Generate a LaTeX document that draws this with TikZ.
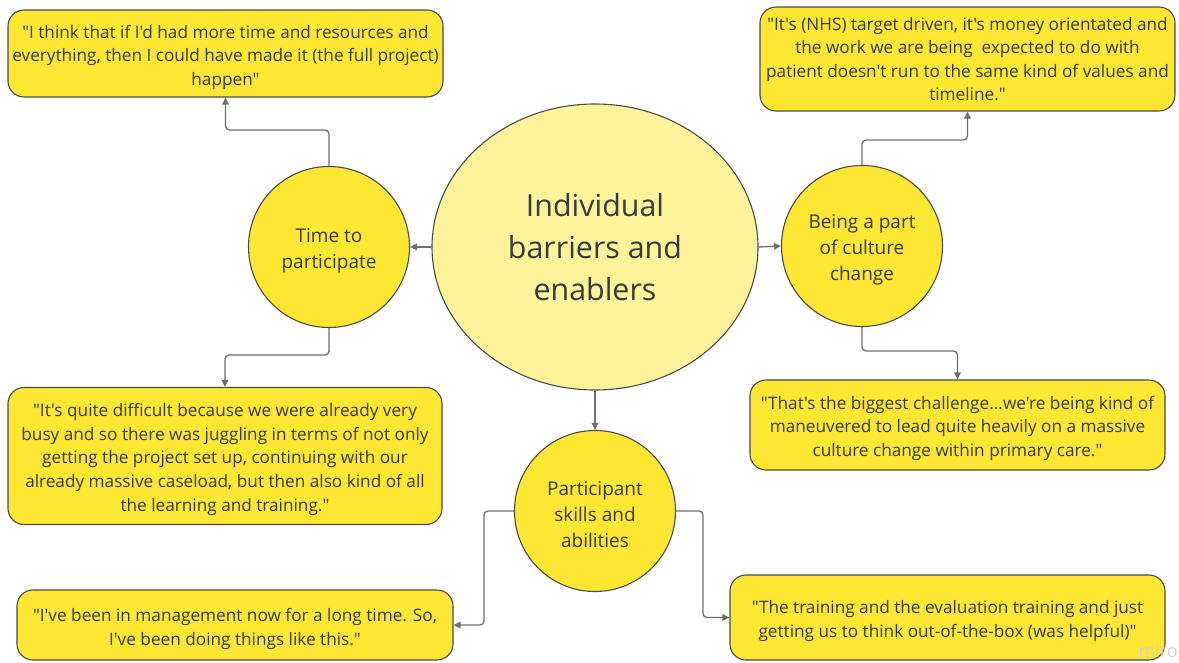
\documentclass[tikz,border=0pt]{standalone}
\usepackage{fontspec}
\setmainfont{Open Sans}[Ligatures=TeXOff]
\usetikzlibrary{arrows.meta,shapes.geometric}
\definecolor{quoteyellow}{HTML}{FEE733}
\definecolor{hubyellow}{HTML}{FEF39A}
\definecolor{edgegrey}{HTML}{4A4A4A}
\definecolor{linkgrey}{HTML}{6E6E6E}
\definecolor{inkgrey}{HTML}{3A3A3A}
% tall invisible strut on a first line, which sets a text block a little lower
\newcommand{\topstrut}[1]{\rule{0pt}{#1}}
\tikzset{
  quote/.style={draw=edgegrey, line width=1.1pt, fill=quoteyellow, rounded corners=16pt,
    align=center, text=inkgrey, inner sep=0pt, font=\fontsize{17.2}{23.6}\selectfont},
  theme/.style={circle, draw=edgegrey, line width=1.1pt, fill=quoteyellow, align=center,
    text=inkgrey, inner sep=0pt, minimum size=161pt, font=\fontsize{19}{26}\selectfont},
  hub/.style={ellipse, draw=edgegrey, line width=1.1pt, fill=hubyellow, align=center,
    text=inkgrey, inner sep=0pt, minimum width=326pt, minimum height=286pt,
    font=\fontsize{30.4}{42}\selectfont},
  link/.style={draw=linkgrey, line width=1.3pt, rounded corners=4pt,
    -{Triangle[length=7pt,width=6.5pt]}}
}
\begin{document}
\begin{tikzpicture}[x=1pt,y=-1pt]
\useasboundingbox (0,0) rectangle (1179,662);

% central theme
\node[hub] (hub) at (595,247) {Individual\\barriers and\\enablers};

% sub-themes
\node[theme] (time) at (329,247) {\topstrut{21pt}Time to\\participate};
\node[theme] (culture) at (862,246) {\topstrut{21pt}Being a part\\of culture\\change};
\node[theme] (skills) at (595,511) {\topstrut{21pt}Participant\\skills and\\abilities};

% quotations
\node[quote, minimum width=435pt, minimum height=87pt] (qtime1) at (225.5,53.5)
  {\topstrut{21pt}"I think that if I'd had more time and resources and\\everything, then I could have made it (the full project)\\happen"};
\node[quote, minimum width=415pt, minimum height=104pt] (qcult1) at (967.5,59)
  {"It's (NHS) target driven, it's money orientated and\\the work we are being\ \ expected to do with\\patient doesn't run to the same kind of values and\\timeline."};
\node[quote, minimum width=434pt, minimum height=137pt] (qtime2) at (225,456)
  {\topstrut{20pt}"It's quite difficult because we were already very\\busy and so there was juggling in terms of not only\\getting the project set up, continuing with our\\already massive caseload, but then also kind of all\\the learning and training."};
\node[quote, minimum width=415pt, minimum height=90pt] (qcult2) at (957.5,425)
  {\topstrut{20pt}"That's the biggest challenge...we're being kind of\\maneuvered to lead quite heavily on a massive\\culture change within primary care."};
\node[quote, minimum width=436pt, minimum height=70pt] (qskill1) at (235,625)
  {\topstrut{21pt}"I've been in management now for a long time. So,\\I've been doing things like this."};
\node[quote, minimum width=435pt, minimum height=85pt] (qskill2) at (947.5,617.5)
  {\topstrut{20pt}"The training and the evaluation training and just\\getting us to think out-of-the-box (was helpful)"};

% connectors
\draw[link] (hub.west) -- (time.east);
\draw[link] (hub.east) -- (culture.west);
\draw[link] (hub.south) -- (skills.north);
\draw[link] (time.north) -- (329,130) -| (qtime1.south);
\draw[link] (time.south) -- (329,355) -| (qtime2.north);
\draw[link] (culture.north) -- (862,140) -| (qcult1.south);
\draw[link] (culture.south) -- (862,351) -| (qcult2.north);
\draw[link] (skills.west) -- (484,511) |- (qskill1.east);
\draw[link] (skills.east) -- (703,511) |- (qskill2.west);

% watermark
\node[text=black!18, anchor=east, inner sep=1pt, font=\fontsize{18}{18}\selectfont] (mark) at (1179,651) {miro};
\end{tikzpicture}
\end{document}
